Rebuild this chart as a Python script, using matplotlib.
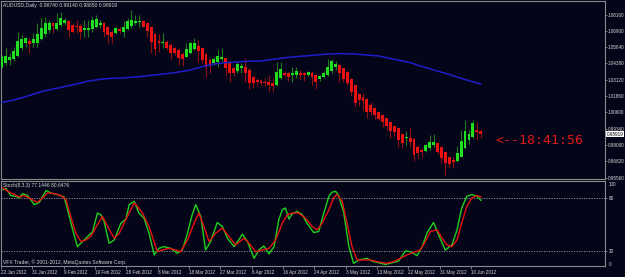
import matplotlib
matplotlib.use('Agg')
import matplotlib.pyplot as plt
import numpy as np

# ---------------- data (AUDUSD daily) ----------------
opens = [1.0408,1.0439,1.0465,1.0470,1.0496,1.0560,1.0593,1.0612,1.0593,1.0593,
         1.0627,1.0663,1.0697,1.0748,1.0704,1.0735,1.0748,1.0766,1.0735,1.0728,
         1.0728,1.0697,1.0697,1.0702,1.0717,1.0735,1.0753,1.0722,1.0684,1.0671,
         1.0702,1.0684,1.0702,1.0730,1.0753,1.0761,1.0766,1.0748,1.0722,1.0663,
         1.0612,1.0593,1.0606,1.0581,1.0555,1.0542,1.0511,1.0490,1.0521,1.0550,
         1.0575,1.0555,1.0511,1.0465,1.0439,1.0449,1.0470,1.0478,1.0444,1.0405,
         1.0380,1.0400,1.0413,1.0387,1.0336,1.0310,1.0302,1.0297,1.0297,1.0289,
         1.0271,1.0323,1.0367,1.0362,1.0349,1.0349,1.0367,1.0362,1.0349,1.0367,
         1.0349,1.0315,1.0331,1.0346,1.0380,1.0413,1.0426,1.0400,1.0374,1.0318,
         1.0271,1.0202,1.0181,1.0163,1.0117,1.0096,1.0065,1.0039,1.0014,0.9983,
         0.9957,0.9936,0.9890,0.9859,0.9864,0.9851,0.9795,0.9769,0.9761,0.9782,
         0.9808,0.9820,0.9789,0.9751,0.9712,0.9692,0.9684,0.9717,0.9782,0.9846,
         0.9867,0.9923,0.9918]
highs = [1.0503,1.0555,1.0516,1.0568,1.0684,1.0658,1.0645,1.0632,1.0671,1.0748,
         1.0787,1.0800,1.0774,1.0761,1.0825,1.0838,1.0787,1.0774,1.0748,1.0774,
         1.0743,1.0774,1.0774,1.0800,1.0813,1.0774,1.0761,1.0728,1.0697,1.0722,
         1.0722,1.0769,1.0787,1.0851,1.0813,1.0813,1.0774,1.0753,1.0725,1.0671,
         1.0663,1.0671,1.0619,1.0593,1.0568,1.0555,1.0529,1.0593,1.0606,1.0632,
         1.0619,1.0568,1.0516,1.0478,1.0490,1.0542,1.0555,1.0483,1.0457,1.0413,
         1.0452,1.0444,1.0483,1.0400,1.0341,1.0328,1.0320,1.0328,1.0349,1.0323,
         1.0452,1.0447,1.0382,1.0374,1.0413,1.0413,1.0387,1.0374,1.0380,1.0382,
         1.0357,1.0349,1.0380,1.0470,1.0470,1.0457,1.0434,1.0405,1.0380,1.0323,
         1.0274,1.0207,1.0207,1.0168,1.0137,1.0104,1.0070,1.0045,1.0019,0.9988,
         0.9962,0.9941,0.9898,0.9916,0.9936,0.9859,0.9808,0.9782,0.9815,0.9885,
         0.9890,0.9826,0.9795,0.9756,0.9717,0.9717,0.9800,0.9923,1.0001,0.9923,
         1.0001,0.9988,0.9923]
lows = [1.0400,1.0426,1.0426,1.0460,1.0490,1.0542,1.0568,1.0521,1.0568,1.0568,
        1.0619,1.0645,1.0671,1.0671,1.0697,1.0722,1.0735,1.0645,1.0671,1.0671,
        1.0624,1.0645,1.0645,1.0684,1.0709,1.0709,1.0645,1.0599,1.0599,1.0666,
        1.0671,1.0645,1.0697,1.0709,1.0735,1.0722,1.0717,1.0645,1.0516,1.0503,
        1.0529,1.0555,1.0542,1.0470,1.0503,1.0426,1.0421,1.0485,1.0511,1.0545,
        1.0452,1.0439,1.0331,1.0367,1.0426,1.0413,1.0452,1.0341,1.0297,1.0341,
        1.0367,1.0362,1.0297,1.0238,1.0246,1.0269,1.0271,1.0264,1.0220,1.0220,
        1.0266,1.0315,1.0336,1.0305,1.0297,1.0323,1.0310,1.0305,1.0344,1.0271,
        1.0238,1.0302,1.0323,1.0341,1.0367,1.0387,1.0297,1.0297,1.0271,1.0186,
        1.0104,1.0109,1.0078,1.0014,1.0039,1.0006,1.0001,0.9949,0.9923,0.9864,
        0.9877,0.9795,0.9782,0.9808,0.9795,0.9684,0.9704,0.9717,0.9756,0.9769,
        0.9795,0.9738,0.9666,0.9576,0.9640,0.9627,0.9679,0.9712,0.9777,0.9815,
        0.9859,0.9846,0.9859]
closes = [1.0485,1.0496,1.0490,1.0534,1.0612,1.0627,1.0632,1.0588,1.0624,1.0663,
          1.0715,1.0748,1.0753,1.0728,1.0748,1.0792,1.0774,1.0697,1.0684,1.0717,
          1.0679,1.0709,1.0715,1.0774,1.0782,1.0748,1.0684,1.0658,1.0645,1.0715,
          1.0692,1.0717,1.0766,1.0774,1.0766,1.0764,1.0722,1.0689,1.0606,1.0550,
          1.0593,1.0606,1.0555,1.0521,1.0516,1.0483,1.0472,1.0547,1.0593,1.0599,
          1.0537,1.0465,1.0413,1.0421,1.0470,1.0496,1.0485,1.0400,1.0362,1.0367,
          1.0431,1.0418,1.0367,1.0284,1.0284,1.0295,1.0284,1.0289,1.0271,1.0266,
          1.0374,1.0398,1.0349,1.0331,1.0367,1.0380,1.0349,1.0349,1.0374,1.0331,
          1.0297,1.0341,1.0367,1.0413,1.0457,1.0434,1.0362,1.0315,1.0284,1.0220,
          1.0130,1.0155,1.0148,1.0060,1.0065,1.0039,1.0009,0.9983,0.9954,0.9918,
          0.9911,0.9846,0.9826,0.9872,0.9833,0.9730,0.9743,0.9756,0.9808,0.9828,
          0.9828,0.9756,0.9704,0.9671,0.9661,0.9679,0.9748,0.9838,0.9916,0.9890,
          0.9980,0.9911,0.9892]

# moving average (read at selected bars)
ma_bar = [0, 3, 6, 10, 15, 19, 22, 25, 28, 31, 35, 39, 44, 48, 51, 54, 57, 62, 66,
          69, 73, 78, 83, 86, 90, 93, 96, 100, 104, 108, 113, 117, 119, 122]
ma_val = [1.0137, 1.0155, 1.0181, 1.0220, 1.0253, 1.0279, 1.0302, 1.0315, 1.0323,
          1.0326, 1.0336, 1.0349, 1.0367, 1.0387, 1.0413, 1.0434, 1.0444, 1.0454,
          1.0457, 1.0470, 1.0485, 1.0498, 1.0511, 1.0514, 1.0511, 1.0503, 1.0496,
          1.0470, 1.0444, 1.0405, 1.0362, 1.0323, 1.0305, 1.0279]

# Stochastic %K (main) and %D (signal)
k_bar = [0, 0.8, 2.0, 3.3, 4.2, 5.0, 6.3, 8.0, 9.3, 11.0, 12.2, 13.9, 15.6, 16.5, 17.8,
         19.0, 20.3, 21.6, 22.9, 24.1, 25.0, 25.8, 27.1, 28.4, 30.1, 31.4, 32.2, 33.5,
         34.7, 36.0, 37.3, 38.6, 39.8, 41.1, 42.8, 44.5, 45.8, 47.1, 48.3, 49.2, 50.5,
         51.7, 53.0, 54.7, 56.0, 57.3, 59.0, 60.2, 61.1, 62.4, 64.1, 65.3, 66.6, 67.9,
         69.2, 70.4, 71.3, 72.1, 73.0, 73.8, 75.1, 76.4, 77.6, 79.3, 80.6, 81.9, 83.2,
         84.0, 84.9, 85.7, 87.0, 88.3, 89.5, 90.8, 92.9, 94.2, 95.9, 97.6, 99.3, 101.0,
         102.7, 104.0, 105.7, 107.0, 108.2, 109.9, 111.2, 112.9, 114.6, 115.9, 117.1,
         118.4, 119.7, 121.0, 122.0]
k_val = [89.5, 90.6, 82.7, 81.9, 80.0, 84.9, 82.7, 72.4, 75.1, 88.4, 85.7, 83.8, 81.1,
         66.7, 43.9, 24.9, 30.6, 36.3, 42.0, 62.9, 61.0, 53.4, 28.7, 32.5, 51.5, 56.1,
         72.4, 76.2, 62.9, 57.2, 40.1, 15.5, 23.0, 24.9, 23.0, 17.4, 21.1, 40.1, 61.0,
         72.4, 59.1, 21.1, 30.6, 52.3, 47.7, 34.4, 24.9, 32.5, 39.0, 30.6, 11.7, 21.1,
         25.7, 16.6, 24.9, 55.3, 66.7, 68.6, 56.1, 61.8, 64.8, 61.0, 51.5, 40.9, 42.0,
         62.9, 81.9, 86.5, 87.6, 82.7, 62.9, 24.9, 6.0, 9.8, 11.7, 8.6, 6.7, 4.8, 6.7,
         8.6, 20.0, 19.2, 14.7, 24.9, 40.1, 52.3, 38.2, 21.1, 26.8, 43.9, 68.6, 81.9,
         83.8, 81.9, 77.3]
d_bar = [0, 1.2, 2.9, 4.2, 5.4, 7.1, 8.8, 10.1, 11.4, 13.1, 14.8, 16.1, 17.3, 18.6, 19.9,
         21.2, 22.4, 24.1, 25.4, 26.7, 28.4, 29.7, 30.9, 32.2, 33.5, 34.3, 35.6, 37.3,
         39.4, 40.7, 42.4, 44.1, 45.4, 47.1, 48.8, 50.0, 51.3, 52.6, 54.3, 56.0, 57.7,
         59.4, 61.5, 62.8, 64.5, 66.2, 67.9, 69.6, 71.3, 72.6, 73.8, 75.5, 77.2, 78.9,
         80.2, 81.5, 83.2, 84.4, 85.3, 86.6, 87.8, 89.1, 90.4, 92.1, 93.8, 95.5, 98.0,
         99.7, 101.4, 103.1, 105.3, 106.5, 107.8, 109.1, 110.8, 112.1, 113.3, 114.6,
         115.9, 117.1, 118.4, 119.7, 121.0, 122.0]
d_val = [91.4, 87.6, 83.8, 81.1, 82.7, 78.9, 75.1, 80.0, 85.7, 84.9, 82.7, 78.1, 59.1,
         40.1, 30.6, 32.5, 36.3, 49.6, 59.1, 47.7, 34.4, 40.1, 51.5, 62.9, 74.3, 70.5,
         62.9, 47.7, 19.2, 21.1, 23.0, 21.1, 19.2, 32.5, 51.5, 62.9, 47.7, 30.6, 40.1,
         45.8, 36.3, 26.8, 34.4, 28.7, 19.2, 21.1, 23.0, 32.5, 51.5, 61.0, 62.9, 62.9,
         57.2, 47.7, 43.9, 51.5, 66.7, 80.0, 83.8, 76.2, 51.5, 24.9, 9.8, 9.8, 9.8, 7.9,
         6.0, 7.9, 11.7, 15.5, 19.2, 21.1, 30.6, 42.0, 43.9, 34.4, 26.8, 24.9, 32.5,
         51.5, 70.5, 80.0, 82.7, 81.1]

price_ticks = [1.08160, 1.06900, 1.05640, 1.04380, 1.03120, 1.01860, 1.00600,
               0.99340, 0.98080, 0.96820, 0.95560]
last_price = 0.98919
stoch_levels = [80, 20]
date_bars = [0, 8, 16, 24, 32, 40, 48, 56, 64, 72, 80, 88, 96, 104, 112, 120]
date_labels = ['22 Jan 2012', '31 Jan 2012', '9 Feb 2012', '19 Feb 2012', '28 Feb 2012',
               '8 Mar 2012', '18 Mar 2012', '27 Mar 2012', '6 Apr 2012', '16 Apr 2012',
               '24 Apr 2012', '3 May 2012', '13 May 2012', '22 May 2012', '31 May 2012',
               '10 Jun 2012']
header = 'AUDUSD,Daily  0.98740 0.99140 0.98650 0.98919'
stoch_header = 'Stoch(8,3,3) 77.1446 80.6476'
copyright_txt = 'VFX Trader, \u00a9 2001-2012, MetaQuotes Software Corp.'
timer_txt = '<--18:41:56'

# ---------------- style ----------------
BG = '#05051a'
GRID = '#8a8a8a'
TXT = '#d8d8d8'
UP_BODY, UP_WICK = '#1fe01f', '#1d7a1d'
DN_BODY, DN_WICK = '#e81212', '#8e1010'
FONT = 'Liberation Sans'
FS = 3.6
FS_AX = 3.3

W, H = 625, 277
fig = plt.figure(figsize=(W / 100, H / 100), dpi=100, facecolor=BG)

def fx(px):
    return px / W

def fy(py):
    return 1 - py / H

ax = fig.add_axes([fx(1), fy(179.3), fx(604), (179.3 - 1.3) / H])
ax2 = fig.add_axes([fx(1), fy(266), fx(604), (266 - 181) / H])

for a in (ax, ax2):
    a.set_facecolor(BG)
    for s in a.spines.values():
        s.set_color(GRID)
        s.set_linewidth(0.8)

o = np.array(opens); h = np.array(highs); l = np.array(lows); c = np.array(closes)
x = np.arange(len(o))
up = c >= o
ax.vlines(x, l, h, colors=np.where(up, UP_WICK, DN_WICK), linewidth=0.8, zorder=2)
body_h = np.maximum(np.abs(c - o), 0.00028)
ax.bar(x, body_h, bottom=np.minimum(o, c), width=0.74,
       color=np.where(up, UP_BODY, DN_BODY), linewidth=0, zorder=3)
ax.plot(ma_bar, ma_val, color='#1d1dcc', lw=1.1, zorder=4)

bar_px = 3.924
ax.set_xlim(-1 / bar_px, (605 - 2) / bar_px)
ax.set_ylim(0.95425, 1.09184)
ax.set_xticks([])
ax.yaxis.tick_right()
ax.set_yticks(price_ticks)
ax.set_yticklabels(['%.5f' % v for v in price_ticks])
ax.tick_params(axis='y', direction='out', length=1.5, width=0.6, color=GRID,
               labelsize=FS_AX, labelcolor=TXT, pad=0.6)
for lab in ax.get_yticklabels():
    lab.set_fontfamily(FONT)

ax.annotate('%.5f' % last_price, xy=(1.0, last_price),
            xycoords=ax.get_yaxis_transform(), xytext=(1.2, 0),
            textcoords='offset points', va='center', ha='left', fontsize=FS_AX,
            family=FONT, color='black',
            bbox=dict(boxstyle='square,pad=0.12', fc='white', ec='white', lw=0))

# stochastic panel
ax2.plot(k_bar, k_val, color='#1fd01f', lw=1.0, zorder=3)
ax2.plot(d_bar, d_val, color='#e81010', lw=1.0, zorder=4)
for lv in stoch_levels:
    ax2.axhline(lv, color='#9a9a9a', lw=0.6, ls=(0, (1.5, 1.5)), zorder=1)
ax2.set_xlim(ax.get_xlim())
ax2.set_ylim(3.0, 99.2)
ax2.yaxis.tick_right()
ax2.set_yticks(stoch_levels)
ax2.set_yticklabels([str(v) for v in stoch_levels])
ax2.tick_params(axis='y', direction='out', length=1.5, width=0.6, color=GRID,
                labelsize=FS_AX, labelcolor=TXT, pad=1)
ax2.set_xticks([b - 0.5 for b in date_bars])
ax2.set_xticklabels(date_labels, ha='left')
ax2.tick_params(axis='x', direction='out', length=2, width=0.6, color=GRID,
                labelsize=FS_AX, labelcolor=TXT, pad=0.8)
for lab in ax2.get_yticklabels() + ax2.get_xticklabels():
    lab.set_fontfamily(FONT)

fig.text(fx(608.5), fy(184.3), '100', fontsize=FS_AX, family=FONT, color=TXT, va='center')
fig.text(fx(608.5), fy(265), '0', fontsize=FS_AX, family=FONT, color=TXT, va='center')

# texts
fig.text(fx(3), fy(5.5), header, fontsize=FS, family=FONT, color=TXT, va='center')
fig.text(fx(3), fy(185), stoch_header, fontsize=FS, family=FONT, color=TXT, va='center')
fig.text(fx(3), fy(262.5), copyright_txt, fontsize=FS, family=FONT, color=TXT, va='center')
fig.text(fx(495), fy(141), timer_txt, fontsize=9.5, family='DejaVu Sans Mono',
         color='#e01818', va='center', ha='left')

fig.savefig('out.png', dpi=100, facecolor=BG)
